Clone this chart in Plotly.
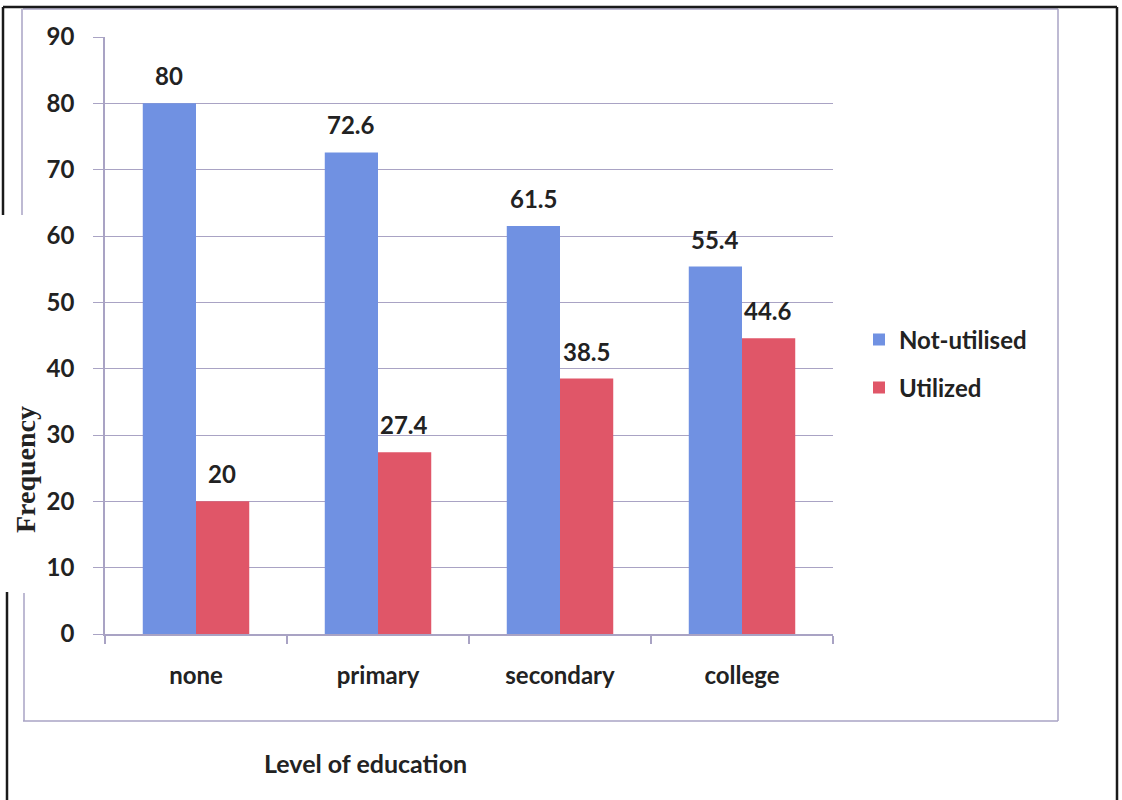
import plotly.graph_objects as go

categories = ["none", "primary", "secondary", "college"]
not_utilised = [80, 72.6, 61.5, 55.4]
utilized = [20, 27.4, 38.5, 44.6]
y_ticks = [0, 10, 20, 30, 40, 50, 60, 70, 80, 90]

BLUE = "#7091E2"
RED = "#E05668"
GRID = "#A9A3C4"
TEXT = "#222222"
FONT = "Lato"

W, H = 1122, 800
L, R, T, B = 105, 833, 37, 634  # plot area in pixels


def px(x):
    return (x - L) / (R - L)


def py(y):
    return (B - y) / (B - T)


fig = go.Figure()
fig.add_trace(go.Bar(x=categories, y=not_utilised, name="Not-utilised",
                     marker=dict(color=BLUE, line=dict(width=0)), legend="legend"))
fig.add_trace(go.Bar(x=categories, y=utilized, name="Utilized",
                     marker=dict(color=RED, line=dict(width=0)), legend="legend2"))

lab_font = dict(family=FONT, size=24, color=TEXT, weight="bold")
annotations = []
for cat, v in zip(categories, not_utilised):
    annotations.append(dict(x=cat, y=v, text=f"{v:g}", xref="x", yref="y", showarrow=False,
                            xshift=-27, yshift=11, yanchor="bottom", font=lab_font))
for cat, v in zip(categories, utilized):
    annotations.append(dict(x=cat, y=v, text=f"{v:g}", xref="x", yref="y", showarrow=False,
                            xshift=26, yshift=11, yanchor="bottom", font=lab_font))

annotations.append(dict(x=px(25), y=py(470), xref="paper", yref="paper", text="Frequency",
                        textangle=-90, showarrow=False, xanchor="center", yanchor="middle",
                        font=dict(family="Liberation Serif", size=28, color=TEXT, weight="bold")))
annotations.append(dict(x=px(365), y=py(763), xref="paper", yref="paper", text="Level of education",
                        showarrow=False, xanchor="center", yanchor="middle",
                        font=dict(family=FONT, size=25, color=TEXT, weight="bold")))

gray = dict(color=GRID, width=1.5)
black = dict(color="#1a1a1a", width=2.5)
shapes = [
    # chart-area border (light purple)
    dict(type="line", x0=px(23), x1=px(1058), y0=py(9), y1=py(9), line=gray),
    dict(type="line", x0=px(1058), x1=px(1058), y0=py(9), y1=py(721), line=gray),
    dict(type="line", x0=px(23), x1=px(1058), y0=py(721), y1=py(721), line=gray),
    dict(type="line", x0=px(22), x1=px(22), y0=py(9), y1=py(215), line=gray),
    dict(type="line", x0=px(24), x1=px(24), y0=py(593), y1=py(721), line=gray),
    # outer black frame
    dict(type="line", x0=px(3), x1=px(1117), y0=py(7), y1=py(7), line=black),
    dict(type="line", x0=px(1117), x1=px(1117), y0=py(7), y1=py(800), line=black),
    dict(type="line", x0=px(3), x1=px(3), y0=py(7), y1=py(215), line=black),
    dict(type="line", x0=px(7), x1=px(7), y0=py(592), y1=py(800), line=black),
]
for s in shapes:
    s["xref"] = "paper"
    s["yref"] = "paper"
    s["layer"] = "above"

legend_font = dict(family=FONT, size=24, color=TEXT, weight="bold")
tick_font = dict(family=FONT, size=24, color=TEXT, weight="bold")
fig.update_layout(
    width=W, height=H,
    margin=dict(l=L, r=W - R, t=T, b=H - B, autoexpand=False),
    paper_bgcolor="white", plot_bgcolor="white",
    barmode="group", bargap=0.415, bargroupgap=0,
    showlegend=True,
    legend=dict(x=px(859), y=py(340), xanchor="left", yanchor="middle",
                font=legend_font, bgcolor="rgba(0,0,0,0)"),
    legend2=dict(x=px(859), y=py(388), xanchor="left", yanchor="middle",
                 font=legend_font, bgcolor="rgba(0,0,0,0)"),
    annotations=annotations,
    shapes=shapes,
    xaxis=dict(showgrid=False, showline=True, linecolor=GRID, linewidth=1.5,
               ticks="outside", tickson="boundaries", ticklen=8, tickcolor=GRID, tickwidth=1.5,
               tickfont=tick_font, ticklabelstandoff=19),
    yaxis=dict(range=[0, 90], tickvals=y_ticks, showgrid=True, gridcolor=GRID, gridwidth=1.2,
               showline=True, linecolor=GRID, linewidth=1.5, zeroline=False,
               ticks="outside", ticklen=10, tickcolor=GRID, tickwidth=1.2,
               tickfont=tick_font, ticklabelstandoff=14),
)

fig.write_html("out.html", config={"displayModeBar": False},
               post_script="document.body.style.margin='0';")
